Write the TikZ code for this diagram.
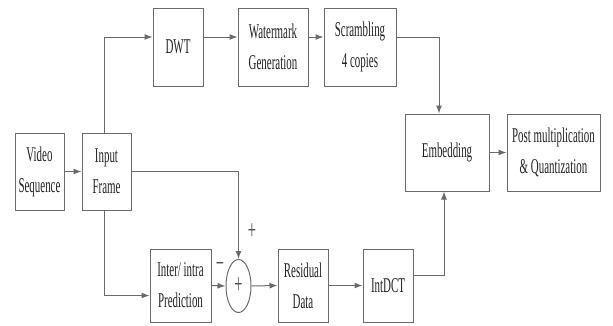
\documentclass[tikz,border=0pt]{standalone}
\usepackage{fontspec}
\setmainfont{Liberation Serif}[FakeStretch=0.52]
\usetikzlibrary{arrows.meta,shapes.geometric,calc}
\definecolor{ln}{HTML}{6A6A6A}
\definecolor{tx}{HTML}{222222}
\begin{document}
\begin{tikzpicture}[x=1pt,y=-1pt,
  blk/.style={draw=ln,line width=1pt,rectangle,inner sep=0pt,align=center,text=tx,
    font=\fontsize{21}{31}\selectfont},
  conn/.style={draw=ln,line width=1pt,-{Latex[length=8pt,width=6pt]}},
  sgn/.style={text=tx!80,font=\fontsize{28}{30}\selectfont,inner sep=0pt}]
\useasboundingbox (0,0) rectangle (613,325);
\node[blk,minimum width=49pt,minimum height=77pt] (vid) at (39.5,171.5) {Video\\Sequence};
\node[blk,minimum width=49pt,minimum height=77pt] (inp) at (106.5,171.5) {Input\\Frame};
\node[blk,minimum width=50pt,minimum height=78pt] (dwt) at (178,47) {DWT};
\node[blk,minimum width=70pt,minimum height=78pt] (wm) at (273,47) {Watermark\\Generation};
\node[blk,minimum width=72pt,minimum height=78pt] (scr) at (360,47) {Scrambling\\4 copies};
\node[blk,minimum width=84pt,minimum height=77pt] (emb) at (447,152.5) {Embedding};
\node[blk,minimum width=93pt,minimum height=77pt] (post) at (553.5,152.5) {Post multiplication\\\& Quantization};
\node[blk,minimum width=61pt,minimum height=73pt] (pred) at (180.5,285.5) {Inter/ intra\\Prediction};
\node[draw=ln,line width=1pt,ellipse,minimum width=25pt,minimum height=53pt,inner sep=0pt,text=tx!80,
  font=\fontsize{28}{30}\selectfont] (sum) at (238.5,286) {+};
\node[blk,minimum width=50pt,minimum height=73pt] (res) at (303,285.5) {Residual\\Data};
\node[blk,minimum width=50pt,minimum height=73pt] (dct) at (388,285.5) {IntDCT};
\node[sgn] (minus) at (220,267) {\textminus};
\node[sgn] (plus) at (252,232) {+};
\coordinate (toprow) at (0,37);
\draw[conn] (vid.east) -- (inp.east -| inp.west);
\draw[conn] ([xshift=-2pt]inp.north) |- (toprow -| dwt.west);
\draw[conn] (toprow -| dwt.east) -- (toprow -| wm.west);
\draw[conn] (toprow -| wm.east) -- (toprow -| scr.west);
\draw[conn] (toprow -| scr.east) -| ([xshift=-8pt]emb.north);
\draw[conn] (emb.east) -- (post.west);
\draw[conn] (inp.east) -| (sum.north);
\draw[conn] ([xshift=-2pt]inp.south) |- ([yshift=-10pt]pred.west);
\draw[conn] (pred.east) -- (sum.west);
\draw[conn] (sum.east) -- (res.west);
\draw[conn] (res.east) -- (dct.west);
\draw[conn] ([yshift=10pt]dct.east) -| ([xshift=-3pt]emb.south);
\end{tikzpicture}
\end{document}
